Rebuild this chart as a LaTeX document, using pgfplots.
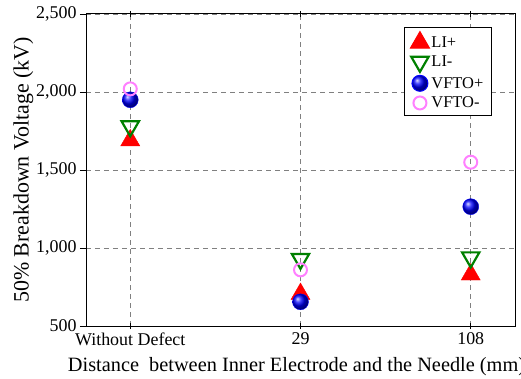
\documentclass[border=0pt]{standalone}
\usepackage{pgfplots}
\pgfplotsset{compat=1.18}
\usepackage{fontspec}
\setmainfont{Liberation Serif}
\definecolor{lipink}{RGB}{255,128,255}
\definecolor{ligreen}{RGB}{0,128,0}
\newcommand{\lgf}{\fontsize{16.5}{18}\selectfont}
\begin{document}
\begin{tikzpicture}
\begin{axis}[
  at={(0,0)}, anchor=south west,
  scale only axis, width=429bp, height=312bp,
  xmin=-0.26, xmax=2.26, ymin=500, ymax=2500,
  xtick={0,1,2}, xticklabels={Without Defect,29,108},
  ytick={500,1000,1500,2000,2500},
  /pgf/number format/assume math mode=true,
  /pgf/number format/1000 sep={,},
  scaled y ticks=false,
  tick label style={font=\fontsize{18}{20}\selectfont},
  xlabel={Distance\ \ between Inner Electrode and the Needle (mm)},
  ylabel={50\% Breakdown Voltage (kV)},
  xlabel style={font=\fontsize{20.4}{22}\selectfont, yshift=-5bp, xshift=-4bp},
  ylabel style={font=\fontsize{22}{24}\selectfont, yshift=-4bp},
  grid=major,
  major grid style={gray, dashed, dash pattern=on 5bp off 4bp, line width=0.8pt},
  axis line style={black, line width=1pt},
  every tick/.style={black, line width=0.8pt},
  major tick length=6bp,
  xtick pos=both, ytick pos=left,
  xtick align=center, ytick align=outside,
  legend style={at={(0.946,0.958)}, anchor=north east, draw=black, line width=1pt,
    row sep=3pt, inner xsep=6pt, inner ysep=4pt,
    /tikz/every even column/.append style={column sep=8pt}},
  legend cell align=left,
  clip=false,
]
\addplot[only marks, mark=triangle*, mark size=11bp, color=red, fill=red]
  coordinates {(0,1690) (1,705) (2,830)};
\addlegendentry{\lgf LI+}
\addplot[only marks, mark=triangle, mark size=10bp, color=ligreen, line width=2.2pt,
  mark options={rotate=180}]
  coordinates {(0,1780) (1,930) (2,940)};
\addlegendentry{\lgf LI-}
\addplot[only marks, mark=ball, ball color=blue, mark size=8bp, color=blue]
  coordinates {(0,1950) (1,655) (2,1265)};
\addlegendentry{\lgf VFTO+}
\addplot[only marks, mark=o, mark size=6.5bp, color=lipink, line width=2pt]
  coordinates {(0,2020) (1,860) (2,1550)};
\addlegendentry{\lgf VFTO-}
\end{axis}
\pgfresetboundingbox
\path[use as bounding box] (-86bp,-53bp) rectangle (435bp,326bp);
\end{tikzpicture}
\end{document}
